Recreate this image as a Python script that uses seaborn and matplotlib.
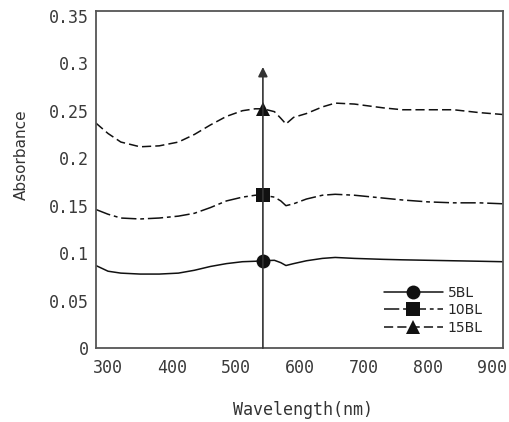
import matplotlib
matplotlib.use("Agg")
import matplotlib.pyplot as plt
import pandas as pd
import seaborn as sns

# wavelength grid (nm) and absorbance
wavelength = [281, 300, 320, 350, 380, 410, 435, 460, 485, 510, 530, 542, 560,
              570, 578, 590, 610, 635, 655, 685, 730, 760, 800, 840, 880, 917]
abs_5bl = [0.087, 0.081, 0.079, 0.078, 0.078, 0.079, 0.082, 0.086, 0.089, 0.091,
           0.0915, 0.092, 0.0925, 0.090, 0.087, 0.089, 0.092, 0.0945, 0.0955,
           0.0945, 0.0935, 0.093, 0.0925, 0.092, 0.0915, 0.091]
abs_10bl = [0.146, 0.141, 0.137, 0.136, 0.137, 0.139, 0.142, 0.148, 0.155, 0.159,
            0.161, 0.161, 0.159, 0.155, 0.150, 0.152, 0.157, 0.161, 0.162,
            0.161, 0.158, 0.156, 0.154, 0.153, 0.153, 0.152]
abs_15bl = [0.237, 0.226, 0.217, 0.212, 0.213, 0.217, 0.225, 0.235, 0.244, 0.250,
            0.252, 0.252, 0.249, 0.242, 0.236, 0.243, 0.247, 0.254, 0.258,
            0.257, 0.253, 0.251, 0.251, 0.251, 0.248, 0.246]

series_names = ["5BL", "10BL", "15BL"]
marker_wl = 542      # wavelength of the marked peak
arrow_top = 0.296    # absorbance where the arrow ends

x_ticks = [300, 400, 500, 600, 700, 800, 900]
y_ticks = [0, 0.05, 0.1, 0.15, 0.2, 0.25, 0.3, 0.35]
y_tick_labels = ["0", "0.05", "0.1", "0.15", "0.2", "0.25", "0.3", "0.35"]

df = pd.DataFrame({"Wavelength": wavelength, "5BL": abs_5bl,
                   "10BL": abs_10bl, "15BL": abs_15bl})

sns.set_style("white")
plt.rcParams["font.family"] = ["DejaVu Sans"]

fig = plt.figure(figsize=(5.1, 4.22), dpi=100)
ax = fig.add_axes([0.188, 0.175, 0.798, 0.799])

styles = {
    "5BL": dict(marker="o", linestyle="-"),
    "10BL": dict(marker="s", linestyle=(0, (10, 2.5, 2.5, 2.5))),
    "15BL": dict(marker="^", linestyle=(0, (6, 2.7))),
}
mark_idx = wavelength.index(marker_wl)

for name in series_names:
    sns.lineplot(data=df, x="Wavelength", y=name, ax=ax, color="#111111",
                 linewidth=1.1, markersize=10, markevery=[mark_idx],
                 markeredgewidth=0, label=name, **styles[name])

ax.annotate("", xy=(marker_wl, arrow_top), xytext=(marker_wl, 0),
            arrowprops=dict(arrowstyle="-|>", color="#333333", lw=1.2,
                            mutation_scale=14, shrinkA=0, shrinkB=0))

ax.set_xlim(281, 917)
ax.set_ylim(0, 0.355)
ax.set_xticks(x_ticks)
ax.set_yticks(y_ticks)
ax.set_yticklabels(y_tick_labels)
ax.tick_params(length=0, labelsize=12, labelcolor="#3a3a3a")
ax.tick_params(axis="x", pad=8)
ax.tick_params(axis="y", pad=5)
for lbl in ax.get_xticklabels() + ax.get_yticklabels():
    lbl.set_family("DejaVu Sans Mono")

ax.set_xlabel("Wavelength(nm)", family="DejaVu Sans Mono", fontsize=12,
              color="#333333")
ax.set_ylabel("Absorbance", fontsize=11, color="#333333")
ax.xaxis.set_label_coords(0.509, -0.158)
ax.yaxis.set_label_coords(-0.165, 0.573)

for sp in ax.spines.values():
    sp.set_color("#555555")
    sp.set_linewidth(1.3)

ax.legend(loc="lower right", bbox_to_anchor=(0.95, 0.04), frameon=False,
          borderpad=0, borderaxespad=0, handlelength=4.3, handletextpad=0.3,
          labelspacing=0.25, fontsize=10)

fig.savefig("out.png", dpi=100)
